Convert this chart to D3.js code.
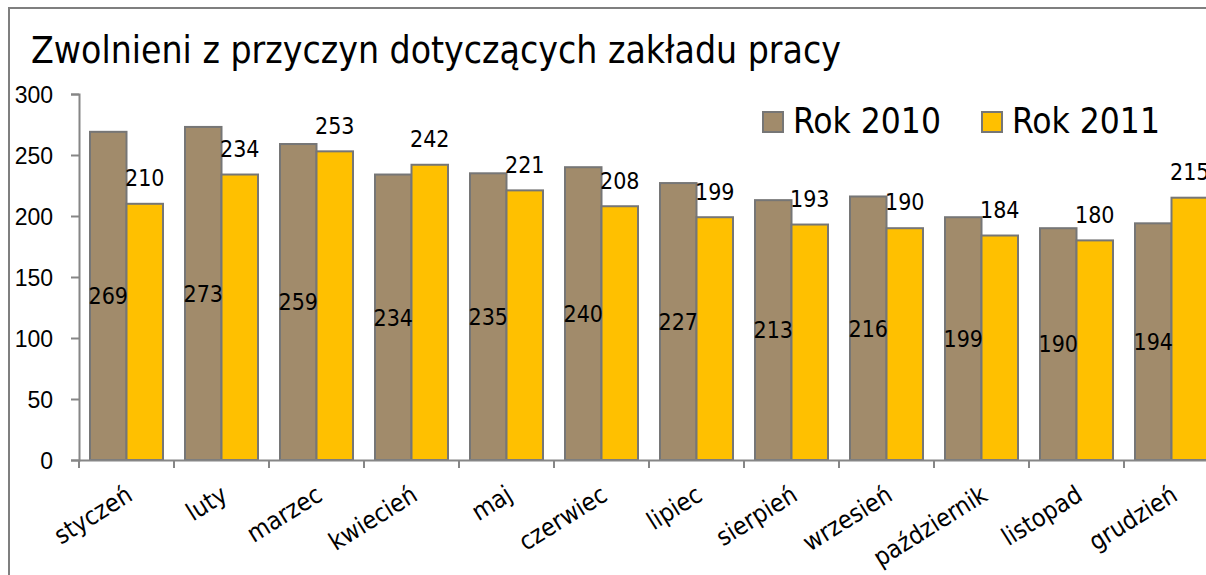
<!DOCTYPE html>
<html>
<head>
<meta charset="utf-8">
<script src="https://cdn.jsdelivr.net/npm/d3@7"></script>
<style>
  body { margin: 0; background: #fff; }
  svg { display: block; font-family: "DejaVu Sans Condensed", "DejaVu Sans", sans-serif; }
</style>
</head>
<body>
<svg class="chart"></svg>
<script>
// dane: zwolnienia z przyczyn dotyczacych zakladu pracy
var months = ["styczeń", "luty", "marzec", "kwiecień", "maj", "czerwiec", "lipiec", "sierpień", "wrzesień", "październik", "listopad", "grudzień"];
var rok2010 = [269, 273, 259, 234, 235, 240, 227, 213, 216, 199, 190, 194];
var rok2011 = [210, 234, 253, 242, 221, 208, 199, 193, 190, 184, 180, 215];

var data = [];
for (var i = 0; i < months.length; i++) {
  data.push({month: months[i], a: rok2010[i], b: rok2011[i]});
};

var width = 1206;
var height = 575;

var svg = d3.select(".chart").attr("width", width).attr("height", height);

// ramka wykresu
svg.append("rect")
  .attr("x", 9).attr("y", 8)
  .attr("width", 1300).attr("height", 700)
  .attr("fill", "none").attr("stroke", "#7f7f7f").attr("stroke-width", 2);

svg.append("text")
  .attr("x", 31).attr("y", 63)
  .attr("font-size", 37)
  .attr("fill", "#000")
  .text("Zwolnieni z przyczyn dotyczących zakładu pracy");

var x0 = d3.scaleBand().domain(months).range([79, 1219]);
var x1 = d3.scaleBand().domain(["a", "b"]).range([11, x0.bandwidth() - 11]);
var y = d3.scaleLinear().domain([0, 300]).range([460, 94]);

// os Y
var yAxis = svg.append("g")
  .attr("transform", "translate(79,0)")
  .call(d3.axisLeft(y).tickValues([0, 50, 100, 150, 200, 250, 300]).tickSize(8).tickPadding(18));
yAxis.selectAll("text").attr("font-size", 23).attr("fill", "#000").attr("dy", "0.36em");
yAxis.select(".domain").attr("stroke", "#868686").attr("stroke-width", 2);
yAxis.selectAll(".tick line").attr("stroke", "#868686").attr("stroke-width", 2);

// slupki
var colors = {a: "#a18b6b", b: "#ffc000"};
var group = svg.selectAll("g.month").data(data).enter().append("g")
  .attr("class", "month")
  .attr("transform", function(d) { return "translate(" + x0(d.month) + ",0)"; });

group.selectAll("rect").data(function(d) { return [{k: "a", v: d.a}, {k: "b", v: d.b}]; })
  .enter().append("rect")
  .attr("x", function(d) { return x1(d.k); })
  .attr("y", function(d) { return y(d.v); })
  .attr("width", x1.bandwidth())
  .attr("height", function(d) { return y(0) - y(d.v); })
  .attr("fill", function(d) { return colors[d.k]; })
  .attr("stroke", "#767676")
  .attr("stroke-width", 2);

// etykiety 2010 - w srodku slupka
group.append("text")
  .attr("x", function(d) { return x1("a") + x1.bandwidth() / 2; })
  .attr("y", function(d) { return (y(d.a) + y(0)) / 2; })
  .attr("dy", "0.36em")
  .attr("text-anchor", "middle")
  .attr("font-size", 23)
  .text(function(d) { return d.a; });

// etykiety 2011 - nad slupkiem
group.append("text")
  .attr("x", function(d) { return x1("b") + x1.bandwidth() / 2; })
  .attr("y", function(d) { return y(d.b) - 26; })
  .attr("dy", "0.36em")
  .attr("text-anchor", "middle")
  .attr("font-size", 23)
  .text(function(d) { return d.b; });

// os X
var xAxis = svg.append("g")
  .attr("transform", "translate(0,460)")
  .call(d3.axisBottom(x0).tickSize(0).tickSizeOuter(0).tickFormat(""));
xAxis.select(".domain").attr("stroke", "#868686").attr("stroke-width", 2);

svg.selectAll("line.sep").data(d3.range(13)).enter().append("line")
  .attr("class", "sep")
  .attr("x1", function(d) { return 79 + d * x0.step(); })
  .attr("x2", function(d) { return 79 + d * x0.step(); })
  .attr("y1", 460).attr("y2", 468)
  .attr("stroke", "#868686").attr("stroke-width", 2);

svg.selectAll("text.month").data(months).enter().append("text")
  .attr("class", "month")
  .attr("text-anchor", "end")
  .attr("font-size", 25)
  .attr("transform", function(d) { return "translate(" + (x0(d) + x0.bandwidth() / 2 - 2) + ",484) rotate(-32)"; })
  .attr("dy", "0.72em")
  .text(function(d) { return d; });

// legenda
var legend = [{k: "a", label: "Rok 2010", x: 763}, {k: "b", label: "Rok 2011", x: 982}];
var leg = svg.selectAll("g.legend").data(legend).enter().append("g")
  .attr("class", "legend")
  .attr("transform", function(d) { return "translate(" + d.x + ",112)"; });
leg.append("rect")
  .attr("width", 20).attr("height", 20)
  .attr("fill", function(d) { return colors[d.k]; })
  .attr("stroke", "#767676").attr("stroke-width", 2);
leg.append("text")
  .attr("x", 30).attr("y", 21)
  .attr("font-size", 35)
  .text(function(d) { return d.label; });
</script>
</body>
</html>
